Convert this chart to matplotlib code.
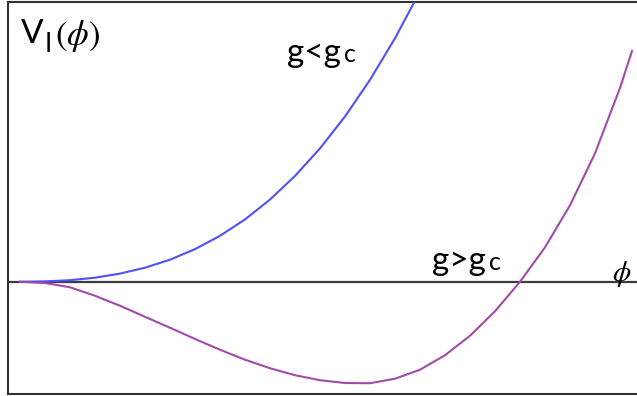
import numpy as np
import matplotlib.pyplot as plt

plt.rcParams['mathtext.fontset'] = 'stix'

# curve values (phi, V), arbitrary units
phi_low = [0.0, 0.25, 0.5, 0.75, 1.0, 1.25, 1.5, 1.75, 2.0, 2.25, 2.5,
           2.75, 3.0, 3.25, 3.5, 3.75, 4.0]
v_low = [0.0, 0.0035, 0.016, 0.041, 0.082, 0.141, 0.221, 0.327, 0.460, 0.624,
         0.823, 1.059, 1.335, 1.654, 2.021, 2.437, 2.906]

phi_high = [0.0, 0.25, 0.5, 0.75, 1.0, 1.25, 1.5, 1.75, 2.0, 2.25, 2.5, 2.75,
            3.0, 3.25, 3.5, 3.75, 4.0, 4.25, 4.5, 4.75, 5.0, 5.25, 5.5, 5.75,
            6.0, 6.12]
v_high = [0.0, -0.012, -0.055, -0.14, -0.24, -0.35, -0.46, -0.572, -0.68,
          -0.78, -0.865, -0.935, -0.985, -1.013, -1.015, -0.97, -0.88, -0.735,
          -0.54, -0.295, 0.0, 0.345, 0.765, 1.285, 1.94, 2.31]

W, H = 637, 396


def px(x, y):
    return x / W, 1 - y / H


fig = plt.figure(figsize=(6.37, 3.96), dpi=100)
ax = fig.add_axes([8 / W, 2 / H, 1 - 8 / W, 1 - 4 / H])

ax.plot(phi_low, v_low, color='#5050f8', lw=1.5, zorder=3)
ax.plot(phi_high, v_high, color='#a24aab', lw=1.5, zorder=3)
ax.axhline(0, color='#3c3c3c', lw=1.6, zorder=2)

ax.set_xlim(-0.12, 6.17)
ax.set_ylim(-1.123, 2.80)
ax.set_xticks([])
ax.set_yticks([])
ax.spines['right'].set_visible(False)
for s in ['left', 'top', 'bottom']:
    ax.spines[s].set_color('#333333')
    ax.spines[s].set_linewidth(1.5)

# V_I(phi) label
fig.text(*px(21, 43), 'V', family='Lato', fontsize=24, va='baseline')
fig.text(*px(45, 52), 'I', family='Lato', fontsize=19, va='baseline')
fig.text(*px(55, 45), r'$(\phi)$', fontsize=25, va='baseline')

# curve labels
fig.text(*px(287, 62), 'g<g', family='Lato', fontsize=24, va='baseline')
fig.text(*px(344, 62), 'c', family='Lato', fontsize=18, va='baseline')
fig.text(*px(432, 270), 'g>g', family='Lato', fontsize=24, va='baseline')
fig.text(*px(489, 270), 'c', family='Lato', fontsize=18, va='baseline')

fig.text(*px(612, 281), r'$\phi$', fontsize=21, va='baseline')

fig.savefig('out.png', dpi=100)
